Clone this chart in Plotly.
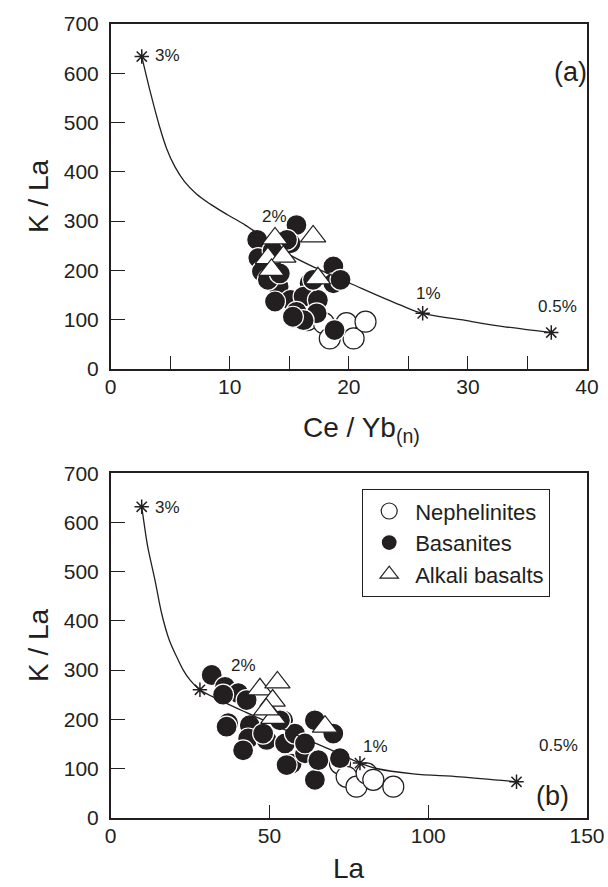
import plotly.graph_objects as go

# ---------------- data: panel (a) Ce/Yb(n) vs K/La ----------------
neph_a_x = [16.5, 17.9, 18.4, 19.8, 20.4, 21.4]
neph_a_y = [99, 93, 62, 93, 62, 96]

bas_a_x = [15.6, 12.3, 15.1, 12.4, 12.7, 18.7, 18.7, 16.7, 14.1, 13.2, 15.1, 16.2,
           17.4, 15.6, 17.3, 16.2, 18.8, 13.8, 14.8, 13.6, 17.0, 19.3, 14.2, 15.3]
bas_a_y = [292, 262, 255, 225, 198, 208, 174, 174, 167, 181, 140, 147,
           140, 116, 113, 99, 79, 137, 262, 240, 181, 181, 194, 106]

alk_a_x = [13.8, 17.0, 13.2, 14.5, 13.5, 17.4]
alk_a_y = [265, 269, 225, 228, 201, 184]

curve_a_x = [2.61, 3.4, 4.1, 4.7, 5.4, 6.2, 7.2, 8.4, 9.8, 11.3, 13.0, 15.0,
             17.3, 20.1, 24.3, 26.2, 29.4, 32.7, 37.0]
curve_a_y = [634, 555, 492, 447, 410, 380, 355, 334, 313, 292, 264, 232,
             204, 174, 130, 113, 100, 87, 74]

star_a_x = [2.61, 26.2, 37.0]
star_a_y = [634, 113, 74]

lab_a_text = ["3%", "2%", "1%", "0.5%"]
lab_a_x = [3.58, 13.74, 26.7, 37.5]
lab_a_y = [636, 309, 154, 126]

# ---------------- data: panel (b) La vs K/La ----------------
neph_b_x = [72.2, 74.3, 77.4, 80.6, 82.7, 89.0]
neph_b_y = [110, 83, 63, 90, 77, 63]

bas_b_x = [31.8, 36.0, 40.2, 35.4, 37.0, 36.5, 43.8, 43.3, 41.7, 49.1, 54.3, 54.9,
           58.0, 64.3, 57.0, 61.2, 64.3, 65.4, 70.1, 72.2, 48.0, 42.8, 61.2, 55.4, 53.3]
bas_b_y = [290, 266, 253, 250, 192, 185, 188, 161, 137, 158, 198, 151,
           171, 198, 110, 131, 77, 117, 171, 121, 171, 239, 151, 107, 198]

alk_b_x = [47.0, 52.5, 51.0, 51.2, 49.0, 67.5]
alk_b_y = [261, 275, 238, 203, 220, 185]

curve_b_x = [9.76, 10.7, 11.65, 13.94, 16.05, 18.44, 20.77, 22.85, 24.96, 28.1,
             35.0, 42.3, 50.0, 60.0, 70.0, 78.5, 83.7, 95.3, 110.0, 127.8]
curve_b_y = [632, 590, 551, 483, 415, 361, 327, 300, 280, 260,
             237, 215, 193, 164, 136, 111, 100, 89, 83, 73]

star_b_x = [9.76, 28.1, 78.5, 127.8]
star_b_y = [632, 260, 111, 73]

lab_b_text = ["3%", "2%", "1%", "0.5%"]
lab_b_x = [13.4, 41.7, 83.3, 140.9]
lab_b_y = [631, 310, 144, 146]

# ---------------- figure ----------------
INK = "#231f20"
FONT = "Liberation Sans, Arial, Helvetica, sans-serif"
MS = 21

fig = go.Figure()


def add_panel(xa, ya, nx, ny, bx, by, ax_, ay_, cx, cy, sx, sy, legend):
    fig.add_trace(go.Scatter(x=nx, y=ny, mode="markers", name="Nephelinites",
                             xaxis=xa, yaxis=ya, showlegend=legend,
                             marker=dict(symbol="circle", size=MS, color="white",
                                         line=dict(color=INK, width=1.2))))
    fig.add_trace(go.Scatter(x=bx, y=by, mode="markers", name="Basanites",
                             xaxis=xa, yaxis=ya, showlegend=legend,
                             marker=dict(symbol="circle", size=MS, color=INK,
                                         line=dict(color="white", width=1.2))))
    fig.add_trace(go.Scatter(x=cx, y=cy, mode="lines", showlegend=False,
                             xaxis=xa, yaxis=ya, hoverinfo="skip",
                             line=dict(color=INK, width=1.3, shape="spline", smoothing=1.0)))
    fig.add_trace(go.Scatter(x=ax_, y=ay_, mode="markers", name="Alkali basalts",
                             xaxis=xa, yaxis=ya, showlegend=legend,
                             marker=dict(symbol="triangle-up", size=MS + 1, color="white",
                                         line=dict(color=INK, width=1.2))))
    fig.add_trace(go.Scatter(x=sx, y=sy, mode="markers", showlegend=False,
                             xaxis=xa, yaxis=ya,
                             marker=dict(symbol="asterisk-open", size=12, color=INK,
                                         line=dict(color=INK, width=1.5))))


add_panel("x", "y", neph_a_x, neph_a_y, bas_a_x, bas_a_y, alk_a_x, alk_a_y,
          curve_a_x, curve_a_y, star_a_x, star_a_y, True)
add_panel("x2", "y2", neph_b_x, neph_b_y, bas_b_x, bas_b_y, alk_b_x, alk_b_y,
          curve_b_x, curve_b_y, star_b_x, star_b_y, False)

xdom = [110.7 / 608, 587.0 / 608]
ydom_a = [1 - 369.0 / 887, 1 - 24.0 / 887]
ydom_b = [1 - 817.7 / 887, 1 - 473.3 / 887]

axis_common = dict(showline=True, mirror=True, linecolor=INK, linewidth=1.5,
                   ticks="inside", tickwidth=1.3, tickcolor=INK,
                   showgrid=False, zeroline=False, automargin=False,
                   tickfont=dict(family=FONT, size=21, color=INK))

xa_vals = [0, 10, 20, 30, 40]
xb_vals = [0, 50, 100, 150]
y_vals = [0, 100, 200, 300, 400, 500, 600, 700]

fig.update_layout(
    width=608, height=887, autosize=False,
    margin=dict(l=0, r=0, t=0, b=0, pad=0),
    paper_bgcolor="white", plot_bgcolor="white",
    font=dict(family=FONT, color=INK),
    xaxis=dict(domain=xdom, anchor="y", range=[0, 40], tickvals=xa_vals, ticklen=13,
               minor=dict(dtick=5, tick0=0, ticks="inside", ticklen=13, tickwidth=1.3,
                          tickcolor=INK, showgrid=False),
               ticklabelstandoff=-2, **axis_common),
    yaxis=dict(domain=ydom_a, anchor="x", range=[0, 700], tickvals=y_vals, ticklen=15,
               ticklabelstandoff=6, **axis_common),
    xaxis2=dict(domain=xdom, anchor="y2", range=[0, 150], tickvals=xb_vals, ticklen=13,
                ticklabelstandoff=-2, **axis_common),
    yaxis2=dict(domain=ydom_b, anchor="x2", range=[0, 700], tickvals=y_vals, ticklen=15,
                ticklabelstandoff=6, **axis_common),
    legend=dict(x=362 / 608, y=1 - 489 / 887, xanchor="left", yanchor="top",
                bgcolor="white", bordercolor=INK, borderwidth=1.2,
                font=dict(family=FONT, size=22, color=INK),
                itemwidth=42, tracegroupgap=0, itemsizing="trace"),
)

ann = []
for t, x, y in zip(lab_a_text, lab_a_x, lab_a_y):
    ann.append(dict(x=x, y=y, xref="x", yref="y", text=t, showarrow=False,
                    xanchor="left" if t == "3%" else "center", yanchor="middle",
                    font=dict(family=FONT, size=17, color=INK)))
for t, x, y in zip(lab_b_text, lab_b_x, lab_b_y):
    ann.append(dict(x=x, y=y, xref="x2", yref="y2", text=t, showarrow=False,
                    xanchor="left" if t == "3%" else "center", yanchor="middle",
                    font=dict(family=FONT, size=17, color=INK)))

ann.append(dict(x=38.6, y=603, xref="x", yref="y", text="(a)", showarrow=False,
                xanchor="center", yanchor="middle",
                font=dict(family=FONT, size=27, color=INK)))
ann.append(dict(x=139.1, y=45, xref="x2", yref="y2", text="(b)", showarrow=False,
                xanchor="center", yanchor="middle",
                font=dict(family=FONT, size=27, color=INK)))

# axis titles
ann.append(dict(x=38 / 608, y=1 - 196 / 887, xref="paper", yref="paper", text="K / La",
                textangle=-90, showarrow=False, xanchor="center", yanchor="middle",
                font=dict(family=FONT, size=28, color=INK)))
ann.append(dict(x=38 / 608, y=1 - 645 / 887, xref="paper", yref="paper", text="K / La",
                textangle=-90, showarrow=False, xanchor="center", yanchor="middle",
                font=dict(family=FONT, size=28, color=INK)))
ann.append(dict(x=361 / 608, y=1 - 429 / 887, xref="paper", yref="paper",
                text="Ce / Yb<sub>(n)</sub>", showarrow=False,
                xanchor="center", yanchor="middle",
                font=dict(family=FONT, size=28, color=INK)))
ann.append(dict(x=349 / 608, y=1 - 868 / 887, xref="paper", yref="paper", text="La",
                showarrow=False, xanchor="center", yanchor="middle",
                font=dict(family=FONT, size=28, color=INK)))

fig.update_layout(annotations=ann)

fig.write_html("out.html")
